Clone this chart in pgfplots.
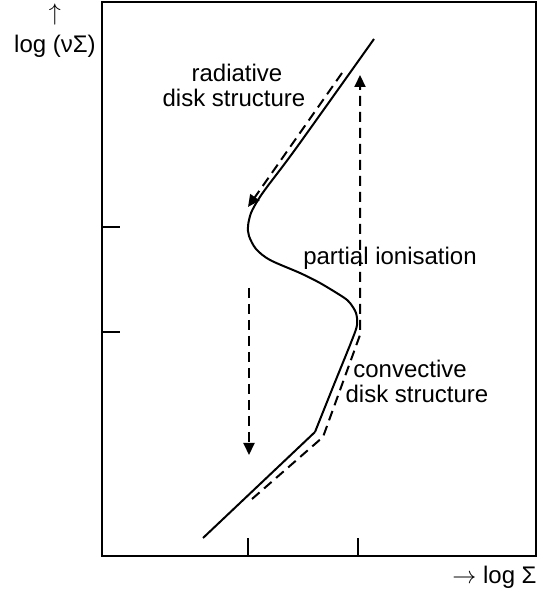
\documentclass[border=0pt]{standalone}
\usepackage{pgfplots}
\pgfplotsset{compat=1.18}
\usepackage{fontspec}
\setmainfont{Liberation Sans}
\usetikzlibrary{arrows.meta}

\begin{document}
\begin{tikzpicture}[font=\fontsize{12}{14}\selectfont]
  \begin{axis}[
      width=217pt, height=277pt, scale only axis,
      xmin=102, xmax=536, ymin=0, ymax=554,
      axis line style={line width=1pt},
      xtick={248,358}, ytick={224,329},
      xticklabels={}, yticklabels={},
      xtick pos=bottom, ytick pos=left,
      tick align=inside, major tick length=9pt,
      tick style={line width=1pt, black},
      clip=false,
      every axis plot/.append style={black, line width=1pt, mark=none},
      dsh/.style={dash pattern=on 5pt off 3pt},
      tip/.style={-{Triangle[length=6pt,width=5.5pt]}}
    ]
    % S-curve of the disk
    \addplot[sharp plot] coordinates {(203,18) (315,124)};
    \addplot[smooth, tension=0.5] coordinates {
      (315,124) (333,169) (352,216) (357,231) (356,243) (350,253)
      (343,259) (320,273) (300,283) (270,296) (256,307) (249,320)
      (248,330) (251,343) (258,356) (267,369) (297,409) (374,517)
    };
    % cooling along the radiative branch
    \addplot[dsh, tip] coordinates {(342,483) (248,349)};
    % jump down
    \addplot[dsh, tip] coordinates {(249,268) (249,101)};
    % heating along the convective branch and jump up
    \addplot[dsh, tip, sharp plot] coordinates {(252,57) (323,119) (360,221) (360,481)};

    \node[anchor=base] at (axis cs:237,474) {radiative};
    \node[anchor=base] at (axis cs:234,449) {disk structure};
    \node[anchor=base] at (axis cs:390,291) {partial ionisation};
    \node[anchor=base] at (axis cs:410,178) {convective};
    \node[anchor=base] at (axis cs:417,153) {disk structure};
    \node[anchor=base] at (axis cs:55,503) {log (νΣ)};
    \node[inner sep=0pt] at (axis cs:55,541) {$\uparrow$};
    \node[anchor=base east, inner sep=0pt] at (axis cs:537,-27) {$\rightarrow$ log Σ};
    \path (axis cs:0,-36) rectangle (axis cs:544,556);
  \end{axis}
\end{tikzpicture}
\end{document}
